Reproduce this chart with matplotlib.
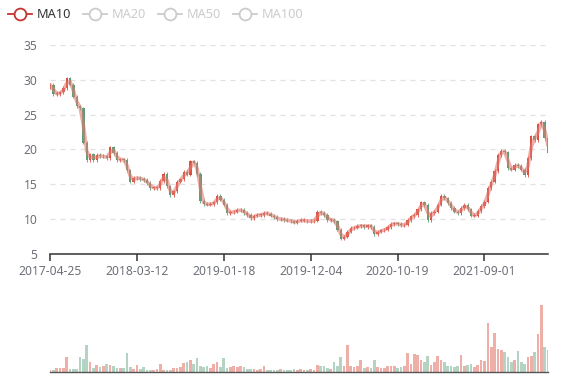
import numpy as np
import matplotlib
matplotlib.use("Agg")
import matplotlib.pyplot as plt
from matplotlib.lines import Line2D

## DATA ##
# closing price, one sample every ~8 trading days
closes = [29.3, 28.0, 28.0, 28.2, 28.8, 30.2, 29.3, 27.6, 26.2, 25.9,
          21.0, 18.5, 19.3, 18.5, 19.2, 19.0, 19.0, 18.8, 20.3, 19.5,
          18.5, 18.6, 18.5, 17.0, 15.4, 15.9, 15.9, 15.8, 15.6, 15.2,
          14.5, 14.5, 14.5, 15.5, 16.5, 14.7, 13.5, 14.0, 15.4, 15.7,
          16.8, 16.4, 18.3, 18.1, 16.5, 12.6, 12.2, 12.1, 12.2, 12.4,
          13.3, 12.8, 12.1, 10.9, 11.0, 11.1, 11.3, 11.3, 10.9, 10.6,
          10.1, 10.5, 10.6, 10.6, 10.9, 10.8, 10.5, 10.3, 10.0, 10.0,
          9.9, 9.8, 9.7, 9.5, 9.8, 9.8, 9.8, 9.7, 9.7, 9.8,
          11.0, 10.9, 10.6, 9.9, 9.9, 9.7, 8.5, 7.2, 7.5, 8.2,
          8.7, 8.8, 9.0, 9.1, 8.9, 9.1, 8.9, 7.8, 8.2, 8.4,
          8.5, 8.9, 9.3, 9.4, 9.3, 9.1, 9.2, 9.9, 10.4, 10.6,
          11.4, 12.4, 12.0, 9.9, 10.9, 11.1, 12.1, 13.3, 13.0, 12.3,
          11.6, 11.1, 10.9, 11.6, 12.0, 11.4, 10.5, 10.5, 11.2, 11.9,
          12.5, 14.5, 15.4, 16.9, 19.2, 19.8, 19.6, 17.3, 17.1, 17.8,
          17.6, 17.1, 16.3, 18.8, 21.9, 21.3, 23.6, 24.0, 21.6, 19.5]
first_open = 29.0

# traded volume (relative units)
volumes = [2, 2, 4, 4, 4, 15, 3, 3, 3, 15,
           13, 27, 10, 4, 7, 5, 6, 8, 7, 6,
           4, 4, 4, 19, 5, 3, 7, 3, 5, 2,
           2, 2, 3, 8, 2, 2, 2, 4, 4, 5,
           9, 10, 12, 8, 14, 6, 5, 6, 4, 8,
           10, 5, 14, 4, 5, 6, 5, 6, 5, 3,
           3, 3, 2, 3, 6, 2, 2, 2, 2, 3,
           2, 2, 2, 3, 2, 3, 2, 2, 3, 2,
           7, 6, 6, 4, 3, 10, 6, 15, 6, 27,
           6, 5, 6, 12, 4, 5, 4, 12, 5, 4,
           4, 6, 6, 6, 4, 5, 6, 19, 8, 18,
           17, 12, 10, 16, 7, 10, 16, 12, 10, 6,
           6, 5, 6, 17, 6, 7, 8, 5, 7, 12,
           11, 49, 25, 39, 23, 22, 20, 15, 10, 12,
           21, 10, 8, 15, 16, 20, 38, 67, 25, 22]

tick_pos = [0, 26, 52, 78, 104, 130]
tick_labels = ["2017-04-25", "2018-03-12", "2019-01-18",
               "2019-12-04", "2020-10-19", "2021-09-01"]
legend_names = ["MA10", "MA20", "MA50", "MA100"]

## STYLE ##
up_color = "#dc4f40"
down_color = "#5b9e78"
ma_color = "#e27a70"
label_color = "#6e7079"
plt.rcParams["font.family"] = ["Noto Sans", "DejaVu Sans"]

closes = np.array(closes)
opens = np.concatenate([[first_open], closes[:-1]])
x = np.arange(len(closes))
up = closes >= opens
colors = [up_color if u else down_color for u in up]

# 10-day average ~ one to two samples here
ma10 = np.convolve(closes, np.ones(2) / 2, mode="full")[:len(closes)]
ma10[0] = closes[0]

fig = plt.figure(figsize=(5.77, 3.8), dpi=100)
W, H = 577, 380

# price panel
ax = fig.add_axes([50 / W, 1 - 254 / H, 498 / W, 209 / H])
bottoms = np.minimum(opens, closes)
heights = np.maximum(np.abs(closes - opens), 0.08)
ax.bar(x, heights, bottom=bottoms, width=0.7, color=colors, linewidth=0, zorder=3)
ax.vlines(x, bottoms - 0.25, bottoms + heights + 0.25, colors=colors, linewidth=0.6, zorder=3)
ax.plot(x, ma10, color=ma_color, linewidth=2.6, alpha=0.6, zorder=4, solid_capstyle="round")

ax.set_xlim(0, len(closes) - 1)
ax.set_ylim(5, 35)
ax.set_yticks([5, 10, 15, 20, 25, 30, 35])
for v in [10, 15, 20, 25, 30, 35]:
    ax.axhline(v, color="#e0e0e0", linewidth=0.9, dashes=(4, 4), zorder=1)
ax.set_xticks(tick_pos)
ax.set_xticklabels(tick_labels)
for s in ["top", "right", "left"]:
    ax.spines[s].set_visible(False)
ax.spines["bottom"].set_color("#333333")
ax.spines["bottom"].set_linewidth(1.1)
ax.tick_params(axis="y", length=0, pad=9, labelsize=8.7, labelcolor=label_color)
ax.tick_params(axis="x", length=5, width=1.1, color="#333333", pad=3,
               labelsize=8.7, labelcolor=label_color)

# volume panel
axv = fig.add_axes([50 / W, 1 - 372 / H, 498 / W, 72 / H])
axv.bar(x, volumes, width=0.8, color=colors, alpha=0.45, linewidth=0)
axv.set_xlim(0, len(closes) - 1)
axv.set_ylim(0, 72)
axv.set_xticks([])
axv.set_yticks([])
for s in ["top", "right", "left"]:
    axv.spines[s].set_visible(False)
axv.spines["bottom"].set_color("#555555")
axv.spines["bottom"].set_linewidth(1.0)

# legend (only MA10 active)
legend_x = [8, 83, 158, 233]
for i, name in enumerate(legend_names):
    c = "#c23531" if i == 0 else "#cccccc"
    tc = "#333333" if i == 0 else "#cccccc"
    x0 = legend_x[i]
    y0 = 1 - 14 / H
    fig.add_artist(Line2D([x0 / W, (x0 + 24) / W], [y0, y0], color=c, linewidth=1.3))
    fig.add_artist(Line2D([(x0 + 12) / W], [y0], marker="o", markersize=8.5,
                          markerfacecolor="white", markeredgecolor=c, markeredgewidth=1.3))
    fig.text((x0 + 29) / W, y0, name, color=tc, fontsize=9.2, va="center", ha="left")

fig.savefig("out.png", dpi=100)
